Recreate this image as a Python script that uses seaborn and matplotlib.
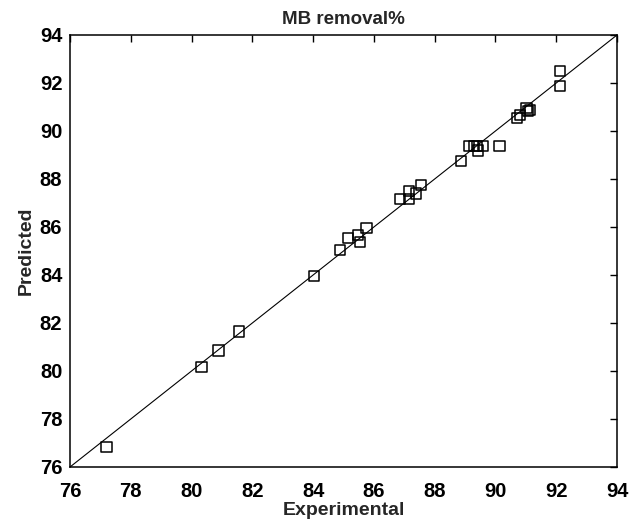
import matplotlib
matplotlib.use("Agg")
import matplotlib.pyplot as plt
import seaborn as sns
import pandas as pd

experimental = [77.2, 80.33, 80.89, 81.57, 84.03, 84.88, 85.14, 85.47, 85.54, 85.76,
                86.86, 87.16, 87.16, 87.39, 87.56, 88.86, 89.12, 89.30, 89.40, 89.42,
                89.59, 90.13, 90.71, 90.81, 91.02, 91.07, 91.13, 92.12, 92.12]
predicted = [76.83, 80.18, 80.85, 81.64, 83.96, 85.03, 85.55, 85.67, 85.38, 85.97,
             87.18, 87.51, 87.18, 87.40, 87.76, 88.76, 89.37, 89.37, 89.37, 89.19,
             89.37, 89.37, 90.53, 90.66, 90.97, 90.84, 90.87, 91.87, 92.51]
axis_limits = [76, 94]
ticks = [76, 78, 80, 82, 84, 86, 88, 90, 92, 94]

df = pd.DataFrame({"Experimental": experimental, "Predicted": predicted})

sns.set_style("white")
plt.rcParams["font.family"] = ["Liberation Sans", "DejaVu Sans"]

fig = plt.figure(figsize=(6.37, 5.24), dpi=100)
ax = fig.add_axes([70 / 637, 1 - 467 / 524, 547 / 637, 432 / 524])

# y = x reference line
sns.lineplot(x=axis_limits, y=axis_limits, ax=ax, color="black", linewidth=0.8)

sns.scatterplot(data=df, x="Experimental", y="Predicted", ax=ax, marker="s",
                s=55, facecolor="none", edgecolor="black", linewidth=1.1)

ax.set_xlim(axis_limits)
ax.set_ylim(axis_limits)
ax.set_xticks(ticks)
ax.set_yticks(ticks)

for spine in ax.spines.values():
    spine.set_color("black")
    spine.set_linewidth(1.1)

ax.tick_params(direction="in", length=5, width=1.0, top=True, right=True,
               labeltop=False, labelright=False, labelsize=14.5, colors="black")
ax.tick_params(axis="x", pad=10.5)
ax.tick_params(axis="y", pad=5.5)
for lab in ax.get_xticklabels() + ax.get_yticklabels():
    lab.set_fontweight("bold")

ax.set_xlabel("Experimental", fontsize=14, fontweight="bold", labelpad=1)
ax.set_ylabel("Predicted", fontsize=14, fontweight="bold", labelpad=4)
ax.set_title("MB removal%", fontsize=13.5, fontweight="bold", pad=8)

fig.savefig("out.png", dpi=100)
